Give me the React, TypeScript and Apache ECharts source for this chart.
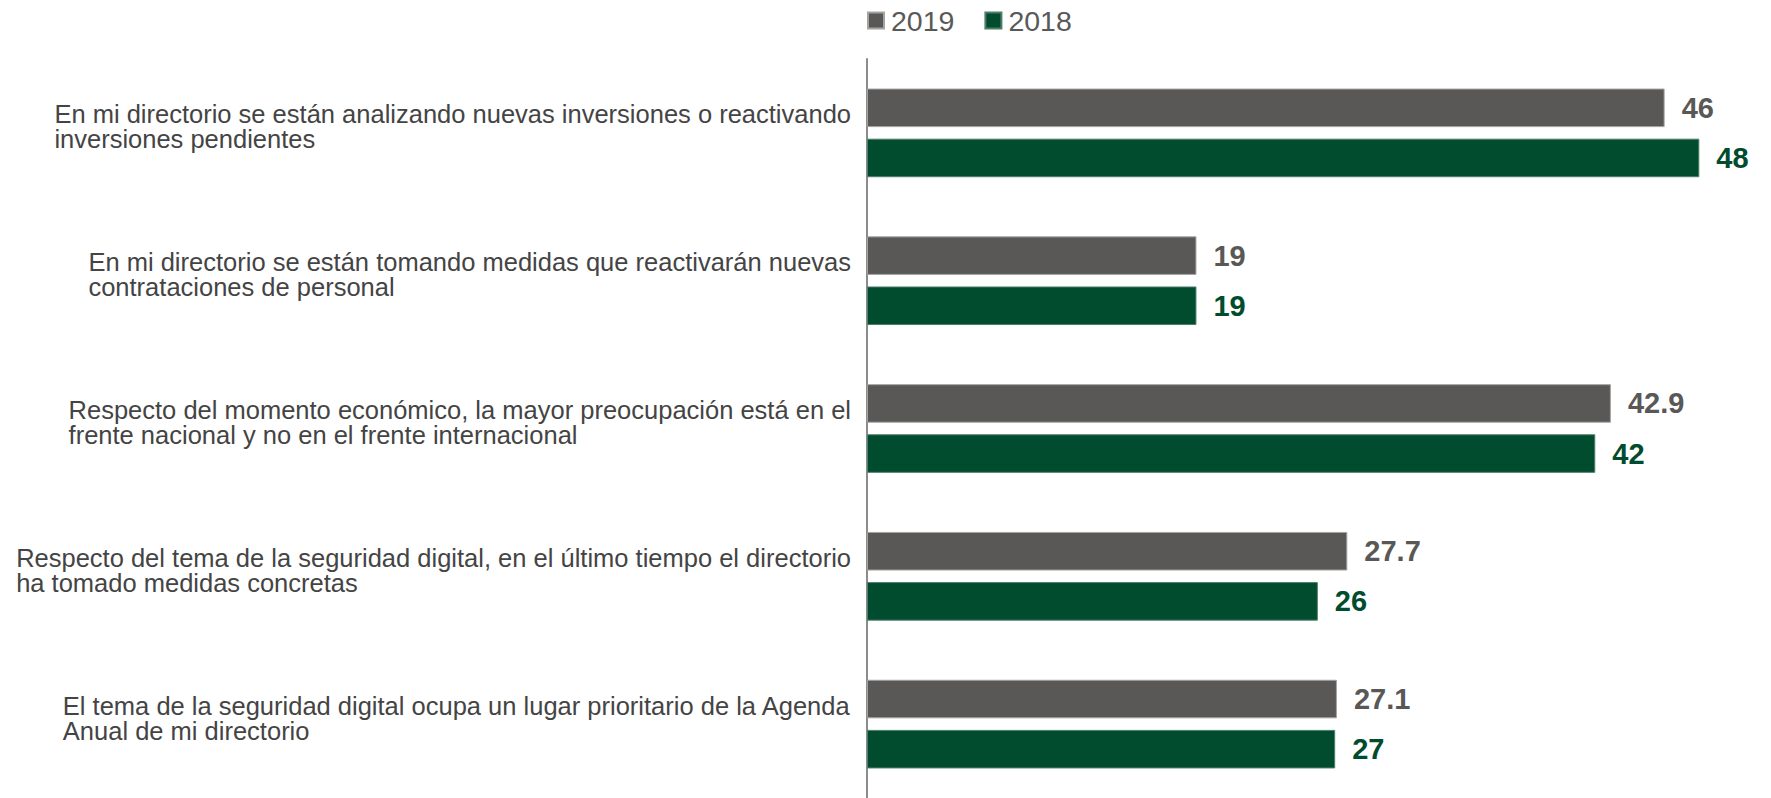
import React, { useEffect, useRef } from "react";
import * as echarts from "echarts";

const categories: string[] = [
  "En mi directorio se están analizando nuevas inversiones o reactivando\ninversiones pendientes",
  "En mi directorio se están tomando medidas que reactivarán nuevas\ncontrataciones de personal",
  "Respecto del momento económico, la mayor preocupación está en el\nfrente nacional y no en el frente internacional",
  "Respecto del tema de la seguridad digital, en el último tiempo el directorio\nha tomado medidas concretas",
  "El tema de la seguridad digital ocupa un lugar prioritario de la Agenda\nAnual de mi directorio",
];
const seriesNames: string[] = ["2019", "2018"];
const values2019: number[] = [46, 19, 42.9, 27.7, 27.1];
const values2018: number[] = [48, 19, 42, 26, 27];

const GRAY = "#595856";
const GREEN = "#014B2E";
const FONT = "'Liberation Sans', Arial, sans-serif";

export default function App() {
  const ref = useRef<HTMLDivElement>(null);
  useEffect(() => {
    if (!ref.current) return;
    const chart = echarts.init(ref.current, null, { renderer: "svg" });
    chart.setOption({
      animation: false,
      textStyle: { fontFamily: FONT },
      legend: {
        data: seriesNames,
        left: 862,
        top: 1,
        icon: "rect",
        itemWidth: 16,
        itemHeight: 16,
        itemGap: 30,
        textStyle: { fontSize: 28.5, color: "#595959", fontFamily: FONT, padding: [0, 0, 0, 2] },
      },
      grid: { left: 867, right: 37, top: 59, bottom: 0, containLabel: false },
      xAxis: {
        type: "value",
        min: 0,
        max: 50,
        show: false,
      },
      yAxis: {
        type: "category",
        data: categories,
        inverse: true,
        axisLine: { show: true, lineStyle: { color: "#8c8c8c", width: 2 } },
        axisTick: { show: false },
        axisLabel: {
          align: "right",
          margin: 16,
          formatter: (v: string) =>
            v
              .split("\n")
              .map((l) => "{a|" + l + "}")
              .join("\n"),
          rich: {
            a: {
              align: "left",
              fontSize: 25.5,
              lineHeight: 25,
              color: "#444444",
              fontFamily: FONT,
            },
          },
          padding: [0, 0, 12, 0],
        },
      },
      series: [
        {
          name: seriesNames[0],
          type: "bar",
          data: values2019,
          barGap: "30%",
          barCategoryGap: "40%",
          itemStyle: { color: GRAY, borderColor: "#a3a3a3", borderWidth: 1 },
          label: {
            show: true,
            position: "right",
            distance: 17,
            fontSize: 29,
            fontWeight: "bold",
            color: GRAY,
            fontFamily: FONT,
          },
        },
        {
          name: seriesNames[1],
          type: "bar",
          data: values2018,
          barGap: "30%",
          barCategoryGap: "40%",
          itemStyle: { color: GREEN, borderColor: "#4d7f68", borderWidth: 1 },
          label: {
            show: true,
            position: "right",
            distance: 17,
            fontSize: 29,
            fontWeight: "bold",
            color: GREEN,
            fontFamily: FONT,
          },
        },
      ],
    });
    return () => chart.dispose();
  }, []);
  return (
    <div
      ref={ref}
      style={{ position: "absolute", left: 0, top: 0, width: 1771, height: 798 }}
    />
  );
}
